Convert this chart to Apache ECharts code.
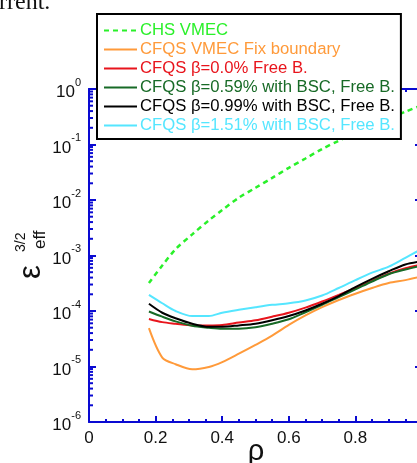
<!DOCTYPE html>
<html>
<head>
<meta charset="utf-8">
<script src="https://cdn.jsdelivr.net/npm/echarts@6/dist/echarts.min.js"></script>
<style>
  html, body { margin: 0; padding: 0; background: #fff; }
  #chart { width: 417px; height: 463px; }
</style>
</head>
<body>
<div id="chart"></div>
<script>
// rho positions shared by every curve
var rho = [0.18, 0.22, 0.26, 0.31, 0.36, 0.40, 0.45, 0.50, 0.55, 0.60, 0.65, 0.70, 0.75, 0.80, 0.85, 0.90, 0.95, 1.00];

// eps_eff^(3/2)
var chsVmec = [3.2e-4, 6.6e-4, 1.3e-3, 2.4e-3, 4.3e-3, 6.6e-3, 1.1e-2, 1.66e-2, 2.5e-2, 3.8e-2, 5.6e-2, 8.3e-2, 0.117, 0.162, 0.22, 0.29, 0.39, 0.51];
var cfqsFix = [4.9e-5, 1.45e-5, 1.1e-5, 8.9e-6, 9.8e-6, 1.2e-5, 1.7e-5, 2.45e-5, 3.6e-5, 5.6e-5, 8.3e-5, 1.17e-4, 1.58e-4, 2.05e-4, 2.6e-4, 3.2e-4, 3.6e-4, 4.2e-4];
var cfqsB00 = [7.2e-5, 6.3e-5, 5.9e-5, 5.5e-5, 5.5e-5, 5.6e-5, 6.2e-5, 6.8e-5, 7.9e-5, 9.3e-5, 1.15e-4, 1.48e-4, 1.95e-4, 2.6e-4, 3.5e-4, 4.7e-4, 5.9e-4, 6.9e-4];
var cfqsB059 = [9.8e-5, 7.9e-5, 6.5e-5, 5.4e-5, 5.0e-5, 4.8e-5, 4.8e-5, 5.1e-5, 5.9e-5, 7.1e-5, 9.5e-5, 1.29e-4, 1.78e-4, 2.45e-4, 3.4e-4, 4.6e-4, 5.6e-4, 6.6e-4];
var cfqsB099 = [1.35e-4, 9.3e-5, 7.4e-5, 5.9e-5, 5.2e-5, 5.2e-5, 5.5e-5, 5.9e-5, 6.8e-5, 8.1e-5, 1.02e-4, 1.35e-4, 1.86e-4, 2.7e-4, 3.8e-4, 5.2e-4, 6.9e-4, 7.9e-4];
var cfqsB151 = [1.95e-4, 1.38e-4, 1.0e-4, 8.1e-5, 8.1e-5, 9.3e-5, 1.05e-4, 1.17e-4, 1.29e-4, 1.38e-4, 1.55e-4, 1.9e-4, 2.6e-4, 3.6e-4, 4.9e-4, 6.3e-4, 9.1e-4, 1.32e-3];

var names = [
  "CHS VMEC",
  "CFQS VMEC Fix boundary",
  "CFQS \u03b2=0.0% Free B.",
  "CFQS \u03b2=0.59% with BSC, Free B.",
  "CFQS \u03b2=0.99% with BSC, Free B.",
  "CFQS \u03b2=1.51% with BSC, Free B."
];
var values = [chsVmec, cfqsFix, cfqsB00, cfqsB059, cfqsB099, cfqsB151];
var colors = ["#2af02a", "#ff9a3a", "#e8141c", "#176a26", "#000000", "#55e6ff"];

// minor log tick values (2..9 times each decade)
var decades = [1e-6, 1e-5, 1e-4, 1e-3, 1e-2, 1e-1];
var minorY = [];
decades.forEach(function (d) {
  for (var k = 2; k <= 9; k++) minorY.push(d * k);
});

var axisBlue = "#0a0ad2";
var font = "Liberation Sans";

function pairs(ys) {
  return rho.map(function (x, i) { return [x, ys[i]]; });
}

var series = names.map(function (n, i) {
  return {
    name: n,
    type: "line",
    data: pairs(values[i]),
    showSymbol: false,
    symbol: "none",
    smooth: 0.3,
    lineStyle: {
      color: colors[i],
      width: i === 0 ? 2.5 : 2,
      type: i === 0 ? [5, 4] : "solid"
    },
    itemStyle: { color: colors[i] }
  };
});

// short inward tick marks for the minor log ticks, on the left (x=0) and right (x=1) frame
[0, 1].forEach(function (side) {
  series.push({
    type: "custom",
    silent: true,
    clip: false,
    z: 3,
    data: minorY.map(function (v) { return [side, v]; }),
    renderItem: function (params, api) {
      var p = api.coord([api.value(0), api.value(1)]);
      var dir = api.value(0) === 0 ? 1 : -1;
      return {
        type: "line",
        shape: { x1: p[0], y1: p[1], x2: p[0] + dir * 4, y2: p[1] },
        style: { stroke: axisBlue, lineWidth: 2 }
      };
    }
  });
});

function logAxis(pos) {
  return {
    type: "log",
    logBase: 10,
    min: 1e-6,
    max: 1,
    interval: 1,
    position: pos,
    axisLine: { onZero: false, lineStyle: { color: axisBlue, width: 2 } },
    splitLine: { show: false },
    axisTick: { inside: true, length: 7, lineStyle: { color: axisBlue, width: 2 } },
    axisLabel: {
      show: pos === "left",
      margin: 8,
      formatter: function (v) {
        return "{b|10}{s|" + Math.round(Math.log10(v)) + "}";
      },
      rich: {
        b: { fontFamily: font, fontSize: 17, color: "#111", lineHeight: 24, verticalAlign: "bottom" },
        s: { fontFamily: font, fontSize: 11, color: "#111", lineHeight: 11, verticalAlign: "top" }
      }
    }
  };
}

function rhoAxis(pos) {
  return {
    type: "value",
    min: 0,
    max: 1,
    interval: 0.2,
    position: pos,
    axisLine: { onZero: false, lineStyle: { color: axisBlue, width: 2 } },
    splitLine: { show: false },
    axisTick: { inside: true, length: 6, lineStyle: { color: axisBlue, width: 2 } },
    minorTick: { show: true, splitNumber: 4, length: 3, lineStyle: { color: axisBlue, width: 2 } },
    axisLabel: {
      show: pos === "bottom",
      margin: 8,
      fontFamily: font,
      fontSize: 17,
      color: "#111",
      formatter: function (v) {
        if (v === 0) return "0";
        if (v >= 1) return "";
        return v.toFixed(1);
      }
    }
  };
}

var option = {
  backgroundColor: "#ffffff",
  animation: false,
  grid: { left: 89, top: 89, right: -5, bottom: 41, containLabel: false, outerBoundsMode: "none" },
  xAxis: [rhoAxis("bottom"), rhoAxis("top")],
  yAxis: [logAxis("left"), logAxis("right")],
  legend: {
    orient: "vertical",
    left: 97,
    top: 14,
    backgroundColor: "#ffffff",
    borderColor: "#000000",
    borderWidth: 2,
    borderRadius: 0,
    padding: [8, 6, 5, 6],
    itemWidth: 33,
    itemHeight: 10,
    itemGap: 2,
    z: 10,
    itemStyle: { opacity: 0 },
    data: names.map(function (n, i) {
      return { name: n, textStyle: { color: colors[i] } };
    }),
    textStyle: { fontFamily: font, fontSize: 16.7, lineHeight: 16, padding: [0, 0, 0, -2] }
  },
  graphic: [
    {
      type: "text",
      left: -1,
      top: -9,
      style: { text: "rrent.", fontFamily: "Liberation Serif", fontSize: 24, fill: "#111" }
    },
    {
      type: "text",
      x: 256,
      y: 452,
      style: { text: "\u03c1", fontFamily: font, fontSize: 29, fill: "#111", align: "center", verticalAlign: "middle" }
    },
    {
      type: "group",
      x: 31,
      y: 279,
      rotation: Math.PI / 2,
      children: [
        { type: "text", x: 0, y: 0, style: { text: "\u03b5", fontFamily: font, fontSize: 31, fill: "#111", align: "left", verticalAlign: "middle" } },
        { type: "text", x: 27, y: -10, style: { text: "3/2", fontFamily: font, fontSize: 14, fill: "#111", align: "left", verticalAlign: "middle" } },
        { type: "text", x: 30, y: 9, style: { text: "eff", fontFamily: font, fontSize: 17, fill: "#111", align: "left", verticalAlign: "middle" } }
      ]
    }
  ],
  series: series
};

var myChart = echarts.init(document.getElementById("chart"), null, { renderer: "canvas" });
option && myChart.setOption(option);
</script>
</body>
</html>
